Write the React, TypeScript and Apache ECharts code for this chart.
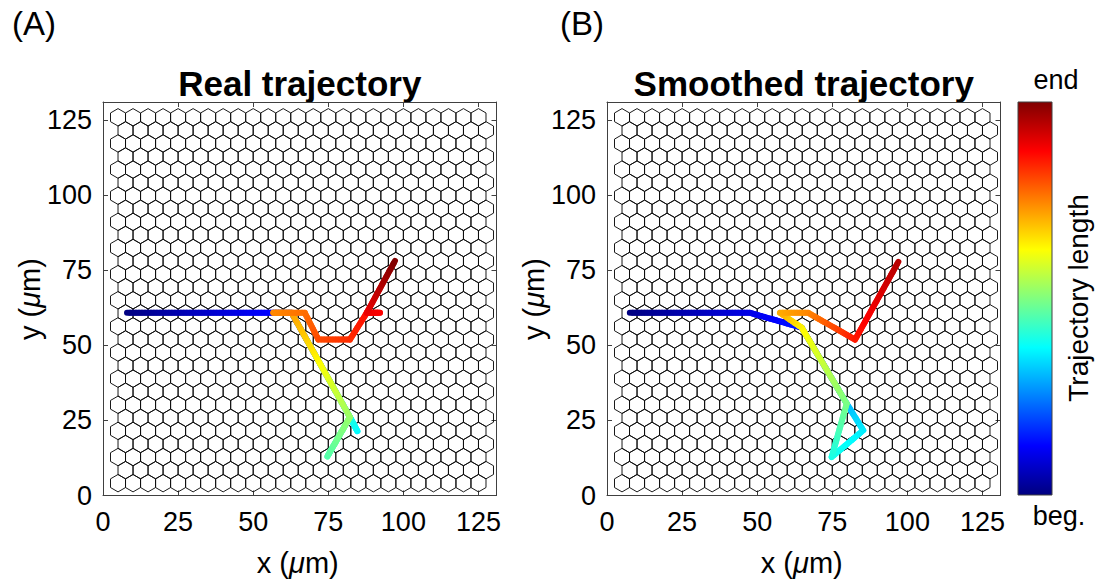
import React, { useEffect, useRef } from "react";
import * as echarts from "echarts";

// Trajectory vertices (µm) and their progress along the track (0 = beginning, 1 = end)
const realX = [8, 56.7, 62.8, 82.2, 84.7, 82.2, 74.7, 82.2, 62.8, 56.7, 67.2, 71.7, 82.2, 87.8, 92.2, 87.8, 97.2];
const realY = [60.8, 60.8, 60.8, 26.1, 21.4, 26.1, 13.0, 26.1, 60.8, 60.8, 60.8, 51.9, 51.9, 60.8, 60.8, 60.8, 78.1];
const realT = [0, 0.13, 0.16, 0.33, 0.37, 0.4, 0.455, 0.52, 0.715, 0.74, 0.765, 0.8, 0.83, 0.86, 0.875, 0.89, 1.0];

const smoothX = [7.6, 47.6, 64.8, 79.8, 85.3, 74.8, 79.8, 64.8, 57.6, 67.0, 82.6, 97.0];
const smoothY = [60.8, 60.8, 55.9, 30.6, 21.7, 12.8, 30.6, 55.9, 60.8, 60.8, 51.9, 77.8];
const smoothT = [0, 0.1, 0.15, 0.3, 0.355, 0.395, 0.49, 0.63, 0.705, 0.74, 0.85, 0.945];

// Honeycomb lattice (µm)
const HEX_HALF_WIDTH = 2.5;
const HEX_RADIUS = 2.9;
const HEX_ROW_PITCH = 4.35;
const HEX_FIRST_ROW_Y = 4.1;
const HEX_ROWS = 29;
const HEX_COLS = 25;

const AXIS_MAX = 131;
const TICK_STEP = 25;

const PANEL_TITLES = ["Real trajectory", "Smoothed trajectory"];
const PANEL_TAGS = ["(A)", "(B)"];

const FONT = "'Liberation Sans', Arial, Helvetica, sans-serif";

function jet(t: number): string {
  const c = (v: number) => Math.max(0, Math.min(1, v));
  const r = c(1.5 - Math.abs(4 * t - 3));
  const g = c(1.5 - Math.abs(4 * t - 2));
  const b = c(1.5 - Math.abs(4 * t - 1));
  return `rgb(${Math.round(r * 255)},${Math.round(g * 255)},${Math.round(b * 255)})`;
}

function hexCenters(): number[][] {
  const out: number[][] = [];
  for (let j = 0; j < HEX_ROWS; j++) {
    const x0 = j % 2 === 0 ? 2 * HEX_HALF_WIDTH : 3 * HEX_HALF_WIDTH;
    for (let i = 0; i < HEX_COLS; i++) {
      out.push([x0 + i * 2 * HEX_HALF_WIDTH, HEX_FIRST_ROW_Y + j * HEX_ROW_PITCH]);
    }
  }
  return out;
}

function segments(xs: number[], ys: number[], ts: number[]): number[][] {
  const out: number[][] = [];
  for (let i = 0; i < xs.length - 1; i++) {
    out.push([xs[i], ys[i], xs[i + 1], ys[i + 1], ts[i], ts[i + 1]]);
  }
  return out;
}

const renderHex = (_params: any, api: any) => {
  const cx = api.value(0);
  const cy = api.value(1);
  const offs = [
    [0, HEX_RADIUS],
    [HEX_HALF_WIDTH, HEX_RADIUS / 2],
    [HEX_HALF_WIDTH, -HEX_RADIUS / 2],
    [0, -HEX_RADIUS],
    [-HEX_HALF_WIDTH, -HEX_RADIUS / 2],
    [-HEX_HALF_WIDTH, HEX_RADIUS / 2],
  ];
  const points = offs.map(([dx, dy]) => api.coord([cx + dx, cy + dy]));
  return {
    type: "polygon",
    shape: { points },
    style: { fill: "none", stroke: "#0d0d0d", lineWidth: 0.95 },
  };
};

const renderTrack = (_params: any, api: any) => {
  const p1 = api.coord([api.value(0), api.value(1)]);
  const p2 = api.coord([api.value(2), api.value(3)]);
  const t1 = api.value(4);
  const t2 = api.value(5);
  const len = Math.hypot(p2[0] - p1[0], p2[1] - p1[1]);
  const n = Math.max(1, Math.ceil(len / 3));
  const children: any[] = [];
  for (let k = 0; k < n; k++) {
    const a = k / n;
    const b = (k + 1) / n;
    children.push({
      type: "line",
      shape: {
        x1: p1[0] + (p2[0] - p1[0]) * a,
        y1: p1[1] + (p2[1] - p1[1]) * a,
        x2: p1[0] + (p2[0] - p1[0]) * b,
        y2: p1[1] + (p2[1] - p1[1]) * b,
      },
      style: { stroke: jet(t1 + (t2 - t1) * ((a + b) / 2)), lineWidth: 6, lineCap: "round" },
    });
  }
  return { type: "group", children };
};

function xAxisFor(gridIndex: number, position: "bottom" | "top") {
  return {
    type: "value",
    gridIndex,
    position,
    min: 0,
    max: AXIS_MAX,
    interval: TICK_STEP,
    axisLine: { show: true, onZero: false, lineStyle: { color: "#404040", width: 1 } },
    axisTick: { show: true, inside: true, length: 5, lineStyle: { color: "#404040", width: 1 } },
    axisLabel: {
      show: position === "bottom",
      showMaxLabel: false,
      fontSize: 27,
      fontFamily: FONT,
      color: "#000",
      margin: 13,
    },
    splitLine: { show: false },
  };
}

function yAxisFor(gridIndex: number, position: "left" | "right") {
  return {
    type: "value",
    gridIndex,
    position,
    min: 0,
    max: AXIS_MAX,
    interval: TICK_STEP,
    axisLine: { show: true, onZero: false, lineStyle: { color: "#404040", width: 1 } },
    axisTick: { show: true, inside: true, length: 5, lineStyle: { color: "#404040", width: 1 } },
    axisLabel: {
      show: position === "left",
      showMaxLabel: false,
      fontSize: 27,
      fontFamily: FONT,
      color: "#000",
      margin: 11,
    },
    splitLine: { show: false },
  };
}

const GRID_LEFTS = [103, 607];
const TAG_LEFTS = [12, 560];
const GRID_TOP = 102;
const GRID_SIZE = 393.5;

function muLabel(prefix: string) {
  return {
    text: `{n|${prefix} (}{m|μ}{n|m)}`,
    rich: {
      n: { fontSize: 29, fontFamily: FONT, fill: "#000" },
      m: { fontSize: 29, fontFamily: FONT, fontStyle: "italic", fill: "#000" },
    },
    align: "center",
    verticalAlign: "middle",
  };
}

export default function App() {
  const ref = useRef<HTMLDivElement>(null);

  useEffect(() => {
    if (!ref.current) return;
    const chart = echarts.init(ref.current, undefined, { renderer: "svg" });
    const hexes = hexCenters();
    const jetStops = [0, 0.125, 0.25, 0.375, 0.5, 0.625, 0.75, 0.875, 1].map((t) => ({
      offset: t,
      color: jet(t),
    }));

    const graphic: any[] = [];
    GRID_LEFTS.forEach((left, i) => {
      const cx = left + GRID_SIZE / 2;
      graphic.push({
        type: "text",
        x: cx,
        y: 83,
        style: {
          text: PANEL_TITLES[i],
          fontSize: 35,
          fontWeight: "bold",
          fontFamily: FONT,
          fill: "#000",
          align: "center",
          verticalAlign: "middle",
        },
      });
      graphic.push({
        type: "text",
        x: TAG_LEFTS[i],
        y: 23,
        style: {
          text: PANEL_TAGS[i],
          fontSize: 33,
          fontFamily: FONT,
          fill: "#000",
          align: "left",
          verticalAlign: "middle",
        },
      });
      graphic.push({ type: "text", x: cx - 2, y: 563, style: muLabel("x") });
      graphic.push({
        type: "text",
        x: left - 73,
        y: 299,
        rotation: Math.PI / 2,
        style: muLabel("y"),
      });
    });

    // colour bar
    graphic.push({
      type: "rect",
      shape: { x: 1018, y: 102, width: 34, height: 393 },
      style: {
        fill: new echarts.graphic.LinearGradient(0, 1, 0, 0, jetStops),
        stroke: "#404040",
        lineWidth: 1,
      },
    });
    graphic.push({
      type: "text",
      x: 1056,
      y: 80,
      style: { text: "end", fontSize: 27, fontFamily: FONT, fill: "#000", align: "center", verticalAlign: "middle" },
    });
    graphic.push({
      type: "text",
      x: 1059,
      y: 516,
      style: { text: "beg.", fontSize: 27, fontFamily: FONT, fill: "#000", align: "center", verticalAlign: "middle" },
    });
    graphic.push({
      type: "text",
      x: 1078,
      y: 298,
      rotation: Math.PI / 2,
      style: {
        text: "Trajectory length",
        fontSize: 28,
        fontFamily: FONT,
        fill: "#000",
        align: "center",
        verticalAlign: "middle",
      },
    });

    chart.setOption({
      animation: false,
      backgroundColor: "#fff",
      grid: GRID_LEFTS.map((left) => ({
        left,
        top: GRID_TOP,
        width: GRID_SIZE,
        height: GRID_SIZE,
        containLabel: false,
      })),
      xAxis: [xAxisFor(0, "bottom"), xAxisFor(0, "top"), xAxisFor(1, "bottom"), xAxisFor(1, "top")],
      yAxis: [yAxisFor(0, "left"), yAxisFor(0, "right"), yAxisFor(1, "left"), yAxisFor(1, "right")],
      series: [
        {
          type: "custom",
          xAxisIndex: 0,
          yAxisIndex: 0,
          silent: true,
          z: 1,
          renderItem: renderHex,
          encode: { x: 0, y: 1 },
          data: hexes,
        },
        {
          type: "custom",
          xAxisIndex: 0,
          yAxisIndex: 0,
          silent: true,
          z: 3,
          renderItem: renderTrack,
          encode: { x: [0, 2], y: [1, 3] },
          data: segments(realX, realY, realT),
        },
        {
          type: "custom",
          xAxisIndex: 2,
          yAxisIndex: 2,
          silent: true,
          z: 1,
          renderItem: renderHex,
          encode: { x: 0, y: 1 },
          data: hexes,
        },
        {
          type: "custom",
          xAxisIndex: 2,
          yAxisIndex: 2,
          silent: true,
          z: 3,
          renderItem: renderTrack,
          encode: { x: [0, 2], y: [1, 3] },
          data: segments(smoothX, smoothY, smoothT),
        },
      ],
      graphic,
    });

    return () => chart.dispose();
  }, []);

  return (
    <div
      ref={ref}
      style={{ position: "fixed", left: 0, top: 0, width: 1099, height: 584, background: "#fff" }}
    />
  );
}
